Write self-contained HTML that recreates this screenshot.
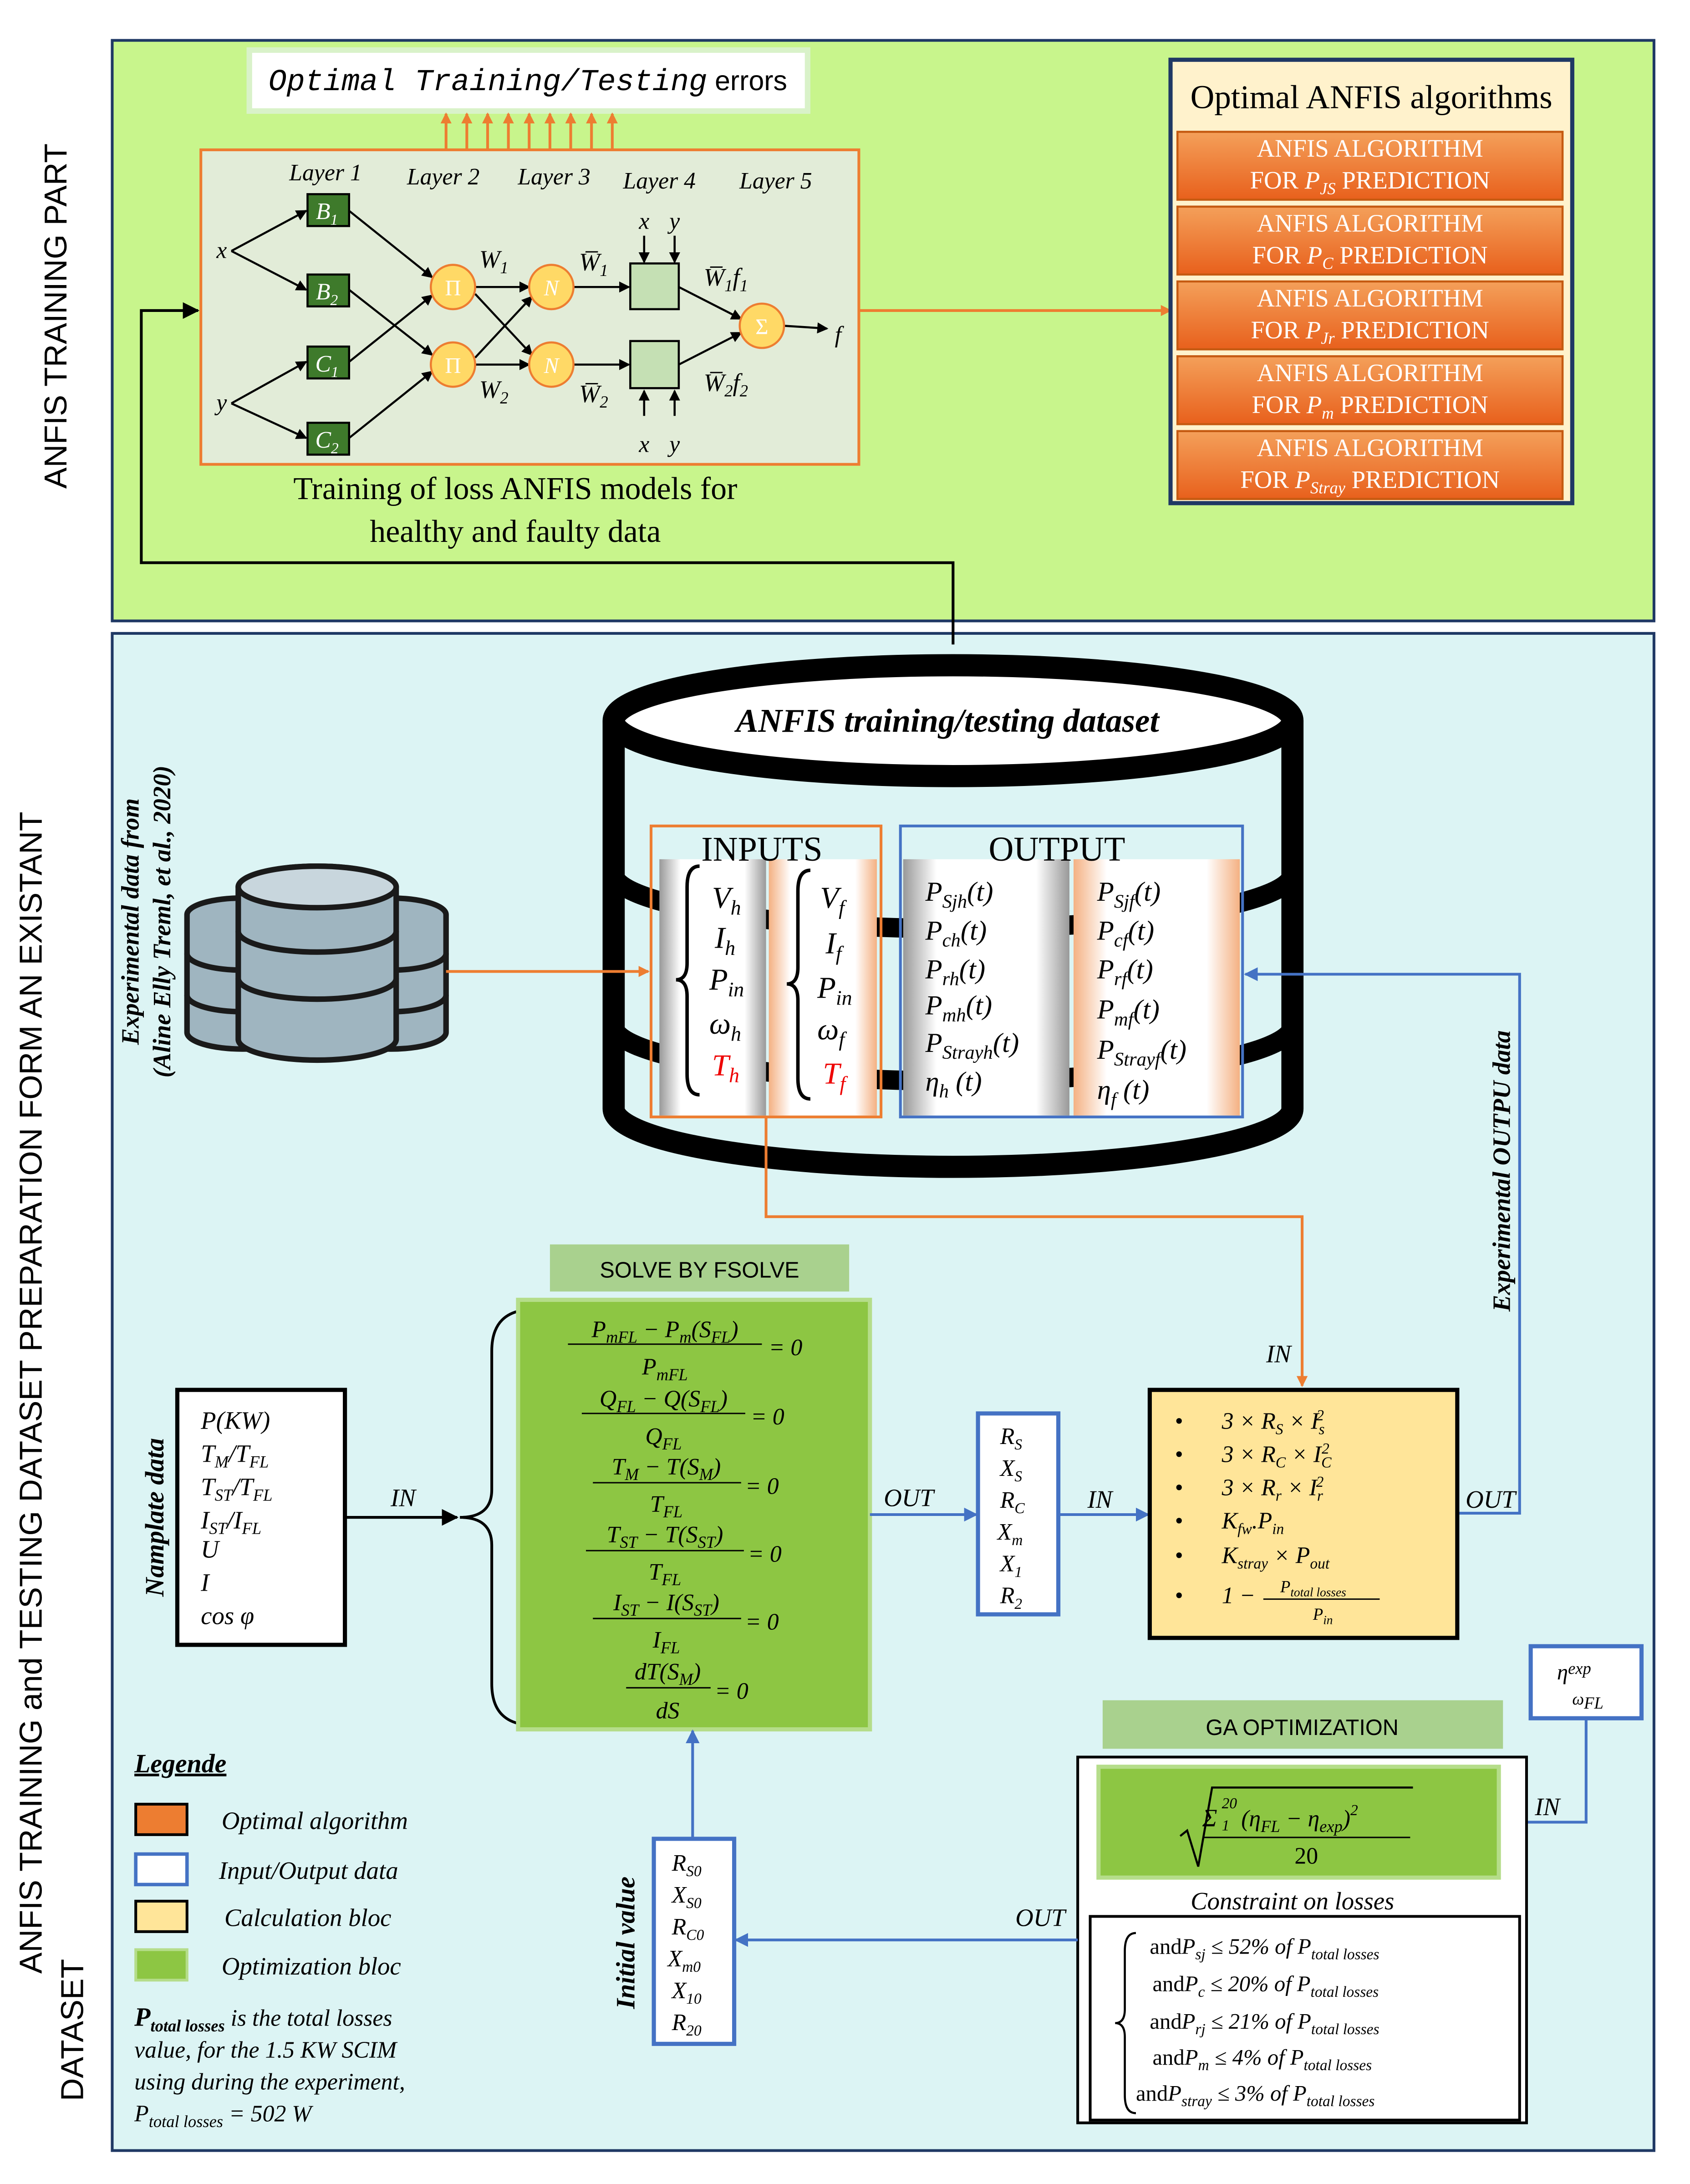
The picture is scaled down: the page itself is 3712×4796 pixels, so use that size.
<!DOCTYPE html>
<html><head><meta charset="utf-8"><style>html,body{margin:0;padding:0;background:#fff}svg{display:block}</style></head><body>
<svg xmlns="http://www.w3.org/2000/svg" width="3712" height="4796" viewBox="0 0 1220 1576" font-family="Liberation Serif, serif">
<defs>
<marker id="ao" markerWidth="8" markerHeight="8" refX="7" refY="4" orient="auto" markerUnits="userSpaceOnUse"><path d="M0,0 L8,4 L0,8z" fill="#ed7d31"/></marker>
<marker id="ab" markerWidth="10" markerHeight="10" refX="9" refY="5" orient="auto" markerUnits="userSpaceOnUse"><path d="M0,0 L10,5 L0,10z" fill="#4472c4"/></marker>
<marker id="ak" markerWidth="12" markerHeight="12" refX="11" refY="6" orient="auto" markerUnits="userSpaceOnUse"><path d="M0,0 L12,6 L0,12z" fill="#000"/></marker>
<marker id="as" markerWidth="8" markerHeight="8" refX="7" refY="4" orient="auto" markerUnits="userSpaceOnUse"><path d="M0,0 L8,4 L0,8z" fill="#000"/></marker>
<linearGradient id="wg" x1="0" x2="1"><stop offset="0" stop-color="#999"/><stop offset="0.2" stop-color="#fff"/><stop offset="0.8" stop-color="#fff"/><stop offset="1" stop-color="#999"/></linearGradient>
<linearGradient id="pg" x1="0" x2="1"><stop offset="0" stop-color="#f4b183"/><stop offset="0.2" stop-color="#fff"/><stop offset="0.8" stop-color="#fff"/><stop offset="1" stop-color="#f4b183"/></linearGradient>
<linearGradient id="og" x1="0" y1="0" x2="0" y2="1"><stop offset="0" stop-color="#f4a05a"/><stop offset="1" stop-color="#e8601c"/></linearGradient>
</defs>
<rect width="1220" height="1576" fill="#fff"/>
<rect x="81" y="29" width="1113" height="419" fill="#c8f58c" stroke="#1f3864" stroke-width="2"/>
<text transform="translate(48,228) rotate(-90)" text-anchor="middle" font-family="Liberation Sans, sans-serif" font-size="23">ANFIS TRAINING PART</text>
<rect x="180" y="36" width="403" height="44" fill="#fff" stroke="#d9f2c9" stroke-width="4"/>
<text x="381" y="65" text-anchor="middle" font-size="22"><tspan font-style="italic" font-family="Liberation Mono, monospace">Optimal Training/Testing</tspan> <tspan font-family="Liberation Sans, sans-serif" font-size="20">errors</tspan></text>
<g stroke="#ed7d31" stroke-width="2" marker-end="url(#ao)">
<line x1="322" y1="108" x2="322" y2="82"/><line x1="337" y1="108" x2="337" y2="82"/><line x1="352" y1="108" x2="352" y2="82"/><line x1="367" y1="108" x2="367" y2="82"/><line x1="382" y1="108" x2="382" y2="82"/><line x1="397" y1="108" x2="397" y2="82"/><line x1="412" y1="108" x2="412" y2="82"/><line x1="427" y1="108" x2="427" y2="82"/><line x1="442" y1="108" x2="442" y2="82"/>
</g>
<rect x="145" y="108" width="475" height="227" fill="#e2ecd8" stroke="#ed7d31" stroke-width="2"/>
<g font-style="italic" font-size="17" text-anchor="middle">
<text x="235" y="130">Layer 1</text><text x="320" y="133">Layer 2</text><text x="400" y="133">Layer 3</text><text x="476" y="136">Layer 4</text><text x="560" y="136">Layer 5</text>
<text x="160" y="186">x</text><text x="160" y="296">y</text>
<text x="465" y="165">x</text><text x="487" y="165">y</text><text x="465" y="326">x</text><text x="487" y="326">y</text>
<text x="605" y="247">f</text>
</g>
<g stroke="#000" stroke-width="1.5" fill="none" marker-end="url(#as)">
<line x1="167" y1="181" x2="221" y2="152"/><line x1="167" y1="181" x2="221" y2="209"/>
<line x1="167" y1="291" x2="221" y2="261"/><line x1="167" y1="291" x2="221" y2="316"/>
<line x1="252" y1="152" x2="312" y2="200"/><line x1="252" y1="209" x2="312" y2="256"/>
<line x1="252" y1="261" x2="312" y2="213"/><line x1="252" y1="316" x2="312" y2="268"/>
<line x1="343" y1="207" x2="382" y2="207"/><line x1="343" y1="263" x2="382" y2="263"/>
<line x1="343" y1="212" x2="384" y2="256"/><line x1="343" y1="258" x2="384" y2="214"/>
<line x1="414" y1="207" x2="454" y2="207"/><line x1="414" y1="263" x2="454" y2="263"/>
<line x1="490" y1="207" x2="535" y2="230"/><line x1="490" y1="263" x2="535" y2="240"/>
<line x1="566" y1="235" x2="597" y2="237"/>
<line x1="465" y1="170" x2="465" y2="189"/><line x1="487" y1="170" x2="487" y2="189"/>
<line x1="465" y1="300" x2="465" y2="282"/><line x1="487" y1="300" x2="487" y2="282"/>
</g>
<g fill="#3e7a2b" stroke="#000" stroke-width="1.5">
<rect x="222" y="140" width="30" height="23"/><rect x="222" y="198" width="30" height="23"/><rect x="222" y="250" width="30" height="23"/><rect x="222" y="305" width="30" height="23"/>
</g>
<g fill="#fff" font-style="italic" font-size="17" text-anchor="middle">
<text x="236" y="158">B<tspan font-size="11" dy="4">1</tspan></text><text x="236" y="216">B<tspan font-size="11" dy="4">2</tspan></text><text x="236" y="268">C<tspan font-size="11" dy="4">1</tspan></text><text x="236" y="323">C<tspan font-size="11" dy="4">2</tspan></text>
</g>
<g fill="#ffd966" stroke="#ed7d31" stroke-width="1.5">
<circle cx="327" cy="207" r="16"/><circle cx="327" cy="263" r="16"/><circle cx="398" cy="207" r="16"/><circle cx="398" cy="263" r="16"/><circle cx="550" cy="235" r="16"/>
</g>
<g fill="#fff" font-size="16" text-anchor="middle"><text x="327" y="213">Π</text><text x="327" y="269">Π</text><text x="398" y="213" font-style="italic">N</text><text x="398" y="269" font-style="italic">N</text><text x="550" y="241">Σ</text></g>
<rect x="455" y="190" width="35" height="33" fill="#c5e0b4" stroke="#000" stroke-width="1.5"/>
<rect x="455" y="246" width="35" height="34" fill="#c5e0b4" stroke="#000" stroke-width="1.5"/>
<g font-style="italic" font-size="18">
<text x="346" y="193">W<tspan font-size="12" dy="4">1</tspan></text><text x="346" y="287">W<tspan font-size="12" dy="4">2</tspan></text>
<text x="418" y="195">W̅<tspan font-size="12" dy="4">1</tspan></text><text x="418" y="290">W̅<tspan font-size="12" dy="4">2</tspan></text>
<text x="508" y="206">W̅<tspan font-size="12" dy="4">1</tspan><tspan dy="-4">f</tspan><tspan font-size="12" dy="4">1</tspan></text>
<text x="508" y="282">W̅<tspan font-size="12" dy="4">2</tspan><tspan dy="-4">f</tspan><tspan font-size="12" dy="4">2</tspan></text>
</g>
<text x="372" y="360" text-anchor="middle" font-size="23">Training of loss ANFIS models for</text>
<text x="372" y="391" text-anchor="middle" font-size="23">healthy and faulty data</text>
<line x1="620" y1="224" x2="845" y2="224" stroke="#ed7d31" stroke-width="2" marker-end="url(#ao)"/>
<rect x="845" y="43" width="290" height="320" fill="#fff2cc" stroke="#1f3864" stroke-width="3"/>
<text x="990" y="78" text-anchor="middle" font-size="24">Optimal ANFIS algorithms</text>
<g fill="url(#og)" stroke="#c55a11" stroke-width="1.5">
<rect x="850" y="95" width="278" height="49"/><rect x="850" y="149" width="278" height="49"/><rect x="850" y="203" width="278" height="49"/><rect x="850" y="257" width="278" height="49"/><rect x="850" y="311" width="278" height="49"/>
</g>
<g fill="#fff" font-size="18" text-anchor="middle">
<text x="989" y="113">ANFIS ALGORITHM</text><text x="989" y="136">FOR <tspan font-style="italic">P<tspan font-size="12" dy="4">JS</tspan></tspan><tspan dy="-4"> PREDICTION</tspan></text>
<text x="989" y="167">ANFIS ALGORITHM</text><text x="989" y="190">FOR <tspan font-style="italic">P<tspan font-size="12" dy="4">C</tspan></tspan><tspan dy="-4"> PREDICTION</tspan></text>
<text x="989" y="221">ANFIS ALGORITHM</text><text x="989" y="244">FOR <tspan font-style="italic">P<tspan font-size="12" dy="4">Jr</tspan></tspan><tspan dy="-4"> PREDICTION</tspan></text>
<text x="989" y="275">ANFIS ALGORITHM</text><text x="989" y="298">FOR <tspan font-style="italic">P<tspan font-size="12" dy="4">m</tspan></tspan><tspan dy="-4"> PREDICTION</tspan></text>
<text x="989" y="329">ANFIS ALGORITHM</text><text x="989" y="352">FOR <tspan font-style="italic">P<tspan font-size="12" dy="4">Stray</tspan></tspan><tspan dy="-4"> PREDICTION</tspan></text>
</g>
<rect x="81" y="457" width="1113" height="1095" fill="#dcf4f4" stroke="#1f3864" stroke-width="2"/>
<text transform="translate(30,1005) rotate(-90)" text-anchor="middle" font-family="Liberation Sans, sans-serif" font-size="23">ANFIS TRAINING and TESTING DATASET PREPARATION FORM AN EXISTANT</text>
<text transform="translate(60,1465) rotate(-90)" text-anchor="middle" font-family="Liberation Sans, sans-serif" font-size="23">DATASET</text>
<polyline points="688,465 688,406 102,406 102,224 143,224" fill="none" stroke="#000" stroke-width="2" marker-end="url(#ak)"/>
<path d="M443,520 L443,800 A245,42 0 0 0 933,800 L933,520" fill="none" stroke="#000" stroke-width="16"/>
<ellipse cx="688" cy="520" rx="245" ry="40" fill="#fff" stroke="#000" stroke-width="16"/>
<path d="M443,630 A245,40 0 0 0 933,630 M443,740 A245,40 0 0 0 933,740" fill="none" stroke="#000" stroke-width="14"/>
<text x="684" y="528" text-anchor="middle" font-size="24" font-weight="bold" font-style="italic">ANFIS training/testing dataset</text>
<rect x="476" y="620" width="77" height="185" fill="url(#wg)"/>
<rect x="555" y="620" width="78" height="185" fill="url(#pg)"/>
<rect x="652" y="620" width="120" height="185" fill="url(#wg)"/>
<rect x="775" y="620" width="120" height="185" fill="url(#pg)"/>
<rect x="470" y="596" width="166" height="210" fill="none" stroke="#ed7d31" stroke-width="2"/>
<rect x="650" y="596" width="247" height="210" fill="none" stroke="#4472c4" stroke-width="2"/>
<text x="550" y="621" text-anchor="middle" font-size="25">INPUTS</text>
<text x="763" y="621" text-anchor="middle" font-size="25">OUTPUT</text>
<path d="M505,625 Q496,625 496,640 L496,695 Q496,707 488,707 Q496,707 496,719 L496,775 Q496,790 505,790" fill="none" stroke="#000" stroke-width="2.5"/>
<path d="M585,628 Q576,628 576,643 L576,698 Q576,710 568,710 Q576,710 576,722 L576,778 Q576,793 585,793" fill="none" stroke="#000" stroke-width="2.5"/>
<g font-style="italic" font-size="22">
<text x="514" y="655">V<tspan font-size="15" dy="5">h</tspan></text>
<text x="516" y="684">I<tspan font-size="15" dy="5">h</tspan></text>
<text x="512" y="714">P<tspan font-size="15" dy="5">in</tspan></text>
<text x="512" y="746">ω<tspan font-size="15" dy="5">h</tspan></text>
<text x="514" y="776" fill="#e00">T<tspan font-size="15" dy="5">h</tspan></text>
<text x="592" y="655">V<tspan font-size="15" dy="5">f</tspan></text>
<text x="596" y="688">I<tspan font-size="15" dy="5">f</tspan></text>
<text x="590" y="720">P<tspan font-size="15" dy="5">in</tspan></text>
<text x="590" y="750">ω<tspan font-size="15" dy="5">f</tspan></text>
<text x="594" y="782" fill="#e00">T<tspan font-size="15" dy="5">f</tspan></text>
</g>
<g font-style="italic" font-size="20">
<text x="668" y="650">P<tspan font-size="14" dy="5">Sjh</tspan><tspan dy="-5">(t)</tspan></text>
<text x="668" y="678">P<tspan font-size="14" dy="5">ch</tspan><tspan dy="-5">(t)</tspan></text>
<text x="668" y="706">P<tspan font-size="14" dy="5">rh</tspan><tspan dy="-5">(t)</tspan></text>
<text x="668" y="732">P<tspan font-size="14" dy="5">mh</tspan><tspan dy="-5">(t)</tspan></text>
<text x="668" y="759">P<tspan font-size="14" dy="5">Strayh</tspan><tspan dy="-5">(t)</tspan></text>
<text x="668" y="787">η<tspan font-size="14" dy="5">h</tspan><tspan dy="-5"> (t)</tspan></text>
<text x="792" y="650">P<tspan font-size="14" dy="5">Sjf</tspan><tspan dy="-5">(t)</tspan></text>
<text x="792" y="678">P<tspan font-size="14" dy="5">cf</tspan><tspan dy="-5">(t)</tspan></text>
<text x="792" y="706">P<tspan font-size="14" dy="5">rf</tspan><tspan dy="-5">(t)</tspan></text>
<text x="792" y="735">P<tspan font-size="14" dy="5">mf</tspan><tspan dy="-5">(t)</tspan></text>
<text x="792" y="764">P<tspan font-size="14" dy="5">Strayf</tspan><tspan dy="-5">(t)</tspan></text>
<text x="792" y="793">η<tspan font-size="14" dy="5">f</tspan><tspan dy="-5"> (t)</tspan></text>
</g>
<g stroke="#1a1a1a" stroke-width="4">
<g fill="#9fb5c0">
<path d="M135,660 a40,12 0 0 1 80,0 v85 a40,12 0 0 1 -80,0z"/>
<path d="M242,660 a40,12 0 0 1 80,0 v85 a40,12 0 0 1 -80,0z"/>
<path d="M172,640 a57,15 0 0 1 114,0 v110 a57,15 0 0 1 -114,0z"/>
</g>
<ellipse cx="229" cy="640" rx="57" ry="15" fill="#c8d6dd"/>
<path d="M172,672 a57,15 0 0 0 114,0 M172,706 a57,15 0 0 0 114,0 M135,688 a40,12 0 0 0 37,12 M286,700 a40,12 0 0 0 36,-12 M135,718 a40,12 0 0 0 37,12 M286,730 a40,12 0 0 0 36,-12" fill="none"/>
</g>
<line x1="322" y1="701" x2="468" y2="701" stroke="#ed7d31" stroke-width="2" marker-end="url(#ao)"/>
<text transform="translate(100,665) rotate(-90)" text-anchor="middle" font-size="18" font-weight="bold" font-style="italic">Experimental data from</text>
<text transform="translate(123,665) rotate(-90)" text-anchor="middle" font-size="18" font-weight="bold" font-style="italic">(Aline Elly Treml, et al., 2020)</text>
<polyline points="553,806 553,878 940,878 940,1000" fill="none" stroke="#ed7d31" stroke-width="2" marker-end="url(#ao)"/>
<text x="914" y="983" font-size="18" font-style="italic">IN</text>
<polyline points="1053,1092 1097,1092 1097,703 899,703" fill="none" stroke="#4472c4" stroke-width="2" marker-end="url(#ab)"/>
<text transform="translate(1090,845) rotate(-90)" text-anchor="middle" font-size="18" font-weight="bold" font-style="italic">Experimental OUTPU data</text>
<text x="1058" y="1088" font-size="18" font-style="italic">OUT</text>
<rect x="128" y="1003" width="121" height="184" fill="#fff" stroke="#000" stroke-width="3"/>
<g font-style="italic" font-size="18">
<text x="145" y="1031">P(KW)</text>
<text x="145" y="1055">T<tspan font-size="12" dy="4">M</tspan><tspan dy="-4">/T</tspan><tspan font-size="12" dy="4">FL</tspan></text>
<text x="145" y="1079">T<tspan font-size="12" dy="4">ST</tspan><tspan dy="-4">/T</tspan><tspan font-size="12" dy="4">FL</tspan></text>
<text x="145" y="1103">I<tspan font-size="12" dy="4">ST</tspan><tspan dy="-4">/I</tspan><tspan font-size="12" dy="4">FL</tspan></text>
<text x="145" y="1124">U</text><text x="145" y="1148">I</text><text x="145" y="1172">cos φ</text>
</g>
<text transform="translate(118,1095) rotate(-90)" text-anchor="middle" font-size="19" font-weight="bold" font-style="italic">Namplate data</text>
<line x1="249" y1="1095" x2="330" y2="1095" stroke="#000" stroke-width="2" marker-end="url(#ak)"/>
<text x="282" y="1087" font-size="18" font-style="italic">IN</text>
<path d="M385,945 Q355,945 355,975 L355,1075 Q355,1095 332,1095 Q355,1095 355,1115 L355,1215 Q355,1245 385,1245" fill="none" stroke="#000" stroke-width="2"/>
<rect x="397" y="898" width="216" height="34" fill="#a9d18e"/>
<text x="505" y="922" text-anchor="middle" font-family="Liberation Sans, sans-serif" font-size="16">SOLVE BY FSOLVE</text>
<rect x="374" y="938" width="254" height="310" fill="#8dc643" stroke="#b5dd8a" stroke-width="3"/>
<g font-style="italic" font-size="17" text-anchor="middle" stroke="none">
<g stroke="#000" stroke-width="1"><line x1="410" y1="970" x2="550" y2="970"/><line x1="420" y1="1020" x2="538" y2="1020"/><line x1="428" y1="1070" x2="535" y2="1070"/><line x1="423" y1="1119" x2="537" y2="1119"/><line x1="428" y1="1168" x2="535" y2="1168"/><line x1="452" y1="1218" x2="513" y2="1218"/></g>
<text x="480" y="965">P<tspan font-size="12" dy="4">mFL</tspan><tspan dy="-4"> − P</tspan><tspan font-size="12" dy="4">m</tspan><tspan dy="-4">(S</tspan><tspan font-size="12" dy="4">FL</tspan><tspan dy="-4">)</tspan></text>
<text x="480" y="992">P<tspan font-size="12" dy="4">mFL</tspan></text>
<text x="479" y="1015">Q<tspan font-size="12" dy="4">FL</tspan><tspan dy="-4"> − Q(S</tspan><tspan font-size="12" dy="4">FL</tspan><tspan dy="-4">)</tspan></text>
<text x="479" y="1042">Q<tspan font-size="12" dy="4">FL</tspan></text>
<text x="481" y="1064">T<tspan font-size="12" dy="4">M</tspan><tspan dy="-4"> − T(S</tspan><tspan font-size="12" dy="4">M</tspan><tspan dy="-4">)</tspan></text>
<text x="481" y="1091">T<tspan font-size="12" dy="4">FL</tspan></text>
<text x="480" y="1113">T<tspan font-size="12" dy="4">ST</tspan><tspan dy="-4"> − T(S</tspan><tspan font-size="12" dy="4">ST</tspan><tspan dy="-4">)</tspan></text>
<text x="480" y="1140">T<tspan font-size="12" dy="4">FL</tspan></text>
<text x="481" y="1162">I<tspan font-size="12" dy="4">ST</tspan><tspan dy="-4"> − I(S</tspan><tspan font-size="12" dy="4">ST</tspan><tspan dy="-4">)</tspan></text>
<text x="481" y="1189">I<tspan font-size="12" dy="4">FL</tspan></text>
<text x="482" y="1212">dT(S<tspan font-size="12" dy="4">M</tspan><tspan dy="-4">)</tspan></text>
<text x="482" y="1240">dS</text>
</g>
<g font-style="italic" font-size="17"><text x="555" y="978">= 0</text><text x="542" y="1028">= 0</text><text x="538" y="1078">= 0</text><text x="540" y="1127">= 0</text><text x="538" y="1176">= 0</text><text x="516" y="1226">= 0</text></g>
<line x1="628" y1="1093" x2="705" y2="1093" stroke="#4472c4" stroke-width="2" marker-end="url(#ab)"/>
<text x="638" y="1087" font-size="18" font-style="italic">OUT</text>
<rect x="706" y="1020" width="58" height="145" fill="#fff" stroke="#4472c4" stroke-width="3"/>
<g font-style="italic" font-size="17">
<text x="722" y="1042">R<tspan font-size="11" dy="4">S</tspan></text><text x="722" y="1065">X<tspan font-size="11" dy="4">S</tspan></text><text x="722" y="1088">R<tspan font-size="11" dy="4">C</tspan></text><text x="720" y="1111">X<tspan font-size="11" dy="4">m</tspan></text><text x="722" y="1134">X<tspan font-size="11" dy="4">1</tspan></text><text x="722" y="1157">R<tspan font-size="11" dy="4">2</tspan></text>
</g>
<line x1="764" y1="1093" x2="829" y2="1093" stroke="#4472c4" stroke-width="2" marker-end="url(#ab)"/>
<text x="785" y="1088" font-size="18" font-style="italic">IN</text>
<rect x="830" y="1003" width="222" height="179" fill="#ffe599" stroke="#000" stroke-width="3"/>
<g font-size="17" font-style="italic">
<text x="848" y="1031">•</text><text x="882" y="1031">3 × R<tspan font-size="11" dy="4">S</tspan><tspan dy="-4"> × I</tspan><tspan font-size="11" dy="4">s</tspan><tspan font-size="11" dy="-10" dx="-6">2</tspan></text>
<text x="848" y="1055">•</text><text x="882" y="1055">3 × R<tspan font-size="11" dy="4">C</tspan><tspan dy="-4"> × I</tspan><tspan font-size="11" dy="4">C</tspan><tspan font-size="11" dy="-10" dx="-7">2</tspan></text>
<text x="848" y="1079">•</text><text x="882" y="1079">3 × R<tspan font-size="11" dy="4">r</tspan><tspan dy="-4"> × I</tspan><tspan font-size="11" dy="4">r</tspan><tspan font-size="11" dy="-10" dx="-5">2</tspan></text>
<text x="848" y="1103">•</text><text x="882" y="1103">K<tspan font-size="11" dy="4">fw</tspan><tspan dy="-4">.P</tspan><tspan font-size="11" dy="4">in</tspan></text>
<text x="848" y="1128">•</text><text x="882" y="1128">K<tspan font-size="11" dy="4">stray</tspan><tspan dy="-4"> × P</tspan><tspan font-size="11" dy="4">out</tspan></text>
<text x="848" y="1157">•</text><text x="882" y="1157">1 −</text>
<text x="948" y="1149" font-size="12" text-anchor="middle">P<tspan font-size="9" dy="3">total losses</tspan></text>
<line x1="912" y1="1154" x2="996" y2="1154" stroke="#000"/>
<text x="955" y="1169" font-size="12" text-anchor="middle">P<tspan font-size="9" dy="3">in</tspan></text>
</g>
<rect x="1105" y="1188" width="80" height="52" fill="#fff" stroke="#4472c4" stroke-width="3"/>
<text x="1124" y="1212" font-size="16" font-style="italic">η<tspan font-size="12" dy="-4">exp</tspan></text>
<text x="1135" y="1230" font-size="12" font-style="italic">ω<tspan dy="3">FL</tspan></text>
<polyline points="1145,1240 1145,1315 1084,1315" fill="none" stroke="#4472c4" stroke-width="2" marker-end="url(#ab)"/>
<text x="1108" y="1310" font-size="18" font-style="italic">IN</text>
<rect x="796" y="1227" width="289" height="35" fill="#a9d18e"/>
<text x="940" y="1252" text-anchor="middle" font-family="Liberation Sans, sans-serif" font-size="16">GA OPTIMIZATION</text>
<rect x="778" y="1268" width="324" height="264" fill="#fff" stroke="#000" stroke-width="2"/>
<rect x="793" y="1275" width="289" height="80" fill="#8dc643" stroke="#b5dd8a" stroke-width="3"/>
<path d="M852,1325 l5,-4 l8,26 l10,-57 h145" fill="none" stroke="#000" stroke-width="1.5"/>
<g font-style="italic">
<text x="868" y="1318" font-size="18">Σ</text>
<text x="882" y="1305" font-size="11">20</text>
<text x="882" y="1321" font-size="11">1</text>
<text x="896" y="1318" font-size="17">(η<tspan font-size="12" dy="4">FL</tspan><tspan dy="-4"> − η</tspan><tspan font-size="12" dy="4">exp</tspan><tspan dy="-4">)</tspan><tspan font-size="11" dy="-8">2</tspan></text>
</g>
<line x1="868" y1="1326" x2="1018" y2="1326" stroke="#000"/>
<text x="943" y="1345" text-anchor="middle" font-size="17">20</text>
<text x="933" y="1378" text-anchor="middle" font-size="18" font-style="italic">Constraint on losses</text>
<rect x="787" y="1383" width="310" height="147" fill="#fff" stroke="#000" stroke-width="2"/>
<path d="M820,1395 Q812,1395 812,1408 L812,1450 Q812,1460 805,1460 Q812,1460 812,1470 L812,1512 Q812,1525 820,1525" fill="none" stroke="#000" stroke-width="1.5"/>
<g font-size="16">
<text x="830" y="1410">and<tspan font-style="italic">P<tspan font-size="11" dy="4">sj</tspan><tspan dy="-4"> ≤ 52% of P</tspan><tspan font-size="11" dy="4">total losses</tspan></tspan></text>
<text x="832" y="1437">and<tspan font-style="italic">P<tspan font-size="11" dy="4">c</tspan><tspan dy="-4"> ≤ 20% of P</tspan><tspan font-size="11" dy="4">total losses</tspan></tspan></text>
<text x="830" y="1464">and<tspan font-style="italic">P<tspan font-size="11" dy="4">rj</tspan><tspan dy="-4"> ≤ 21% of P</tspan><tspan font-size="11" dy="4">total losses</tspan></tspan></text>
<text x="832" y="1490">and<tspan font-style="italic">P<tspan font-size="11" dy="4">m</tspan><tspan dy="-4"> ≤ 4% of P</tspan><tspan font-size="11" dy="4">total losses</tspan></tspan></text>
<text x="820" y="1516">and<tspan font-style="italic">P<tspan font-size="11" dy="4">stray</tspan><tspan dy="-4"> ≤ 3% of P</tspan><tspan font-size="11" dy="4">total losses</tspan></tspan></text>
</g>
<line x1="778" y1="1400" x2="531" y2="1400" stroke="#4472c4" stroke-width="2" marker-end="url(#ab)"/>
<text x="733" y="1390" font-size="18" font-style="italic">OUT</text>
<rect x="472" y="1327" width="58" height="148" fill="#fff" stroke="#4472c4" stroke-width="3"/>
<g font-style="italic" font-size="17">
<text x="485" y="1350">R<tspan font-size="11" dy="4">S0</tspan></text><text x="485" y="1373">X<tspan font-size="11" dy="4">S0</tspan></text><text x="485" y="1396">R<tspan font-size="11" dy="4">C0</tspan></text><text x="482" y="1419">X<tspan font-size="11" dy="4">m0</tspan></text><text x="485" y="1442">X<tspan font-size="11" dy="4">10</tspan></text><text x="485" y="1465">R<tspan font-size="11" dy="4">20</tspan></text>
</g>
<text transform="translate(458,1402) rotate(-90)" text-anchor="middle" font-size="19" font-weight="bold" font-style="italic">Initial value</text>
<line x1="500" y1="1327" x2="500" y2="1249" stroke="#4472c4" stroke-width="2" marker-end="url(#ab)"/>
<text x="97" y="1279" font-size="19" font-weight="bold" font-style="italic" text-decoration="underline">Legende</text>
<rect x="98" y="1302" width="37" height="22" fill="#ed7d31" stroke="#000" stroke-width="2"/>
<rect x="98" y="1338" width="37" height="22" fill="#fff" stroke="#4472c4" stroke-width="2.5"/>
<rect x="98" y="1372" width="37" height="22" fill="#ffe599" stroke="#000" stroke-width="2"/>
<rect x="98" y="1407" width="37" height="22" fill="#8dc643" stroke="#b5dd8a" stroke-width="2"/>
<g font-style="italic" font-size="18">
<text x="160" y="1320">Optimal algorithm</text><text x="158" y="1356">Input/Output data</text><text x="162" y="1390">Calculation bloc</text><text x="160" y="1425">Optimization bloc</text>
</g>
<g font-style="italic" font-size="17">
<text x="97" y="1462"><tspan font-weight="bold" font-size="19">P</tspan><tspan font-weight="bold" font-size="12" dy="4">total losses</tspan><tspan dy="-4"> is the total losses</tspan></text>
<text x="97" y="1485">value, for the 1.5 KW SCIM</text>
<text x="97" y="1508">using during the experiment,</text>
<text x="97" y="1531">P<tspan font-size="12" dy="4">total losses</tspan><tspan dy="-4"> = 502 W</tspan></text>
</g>
</svg>
</body></html>
